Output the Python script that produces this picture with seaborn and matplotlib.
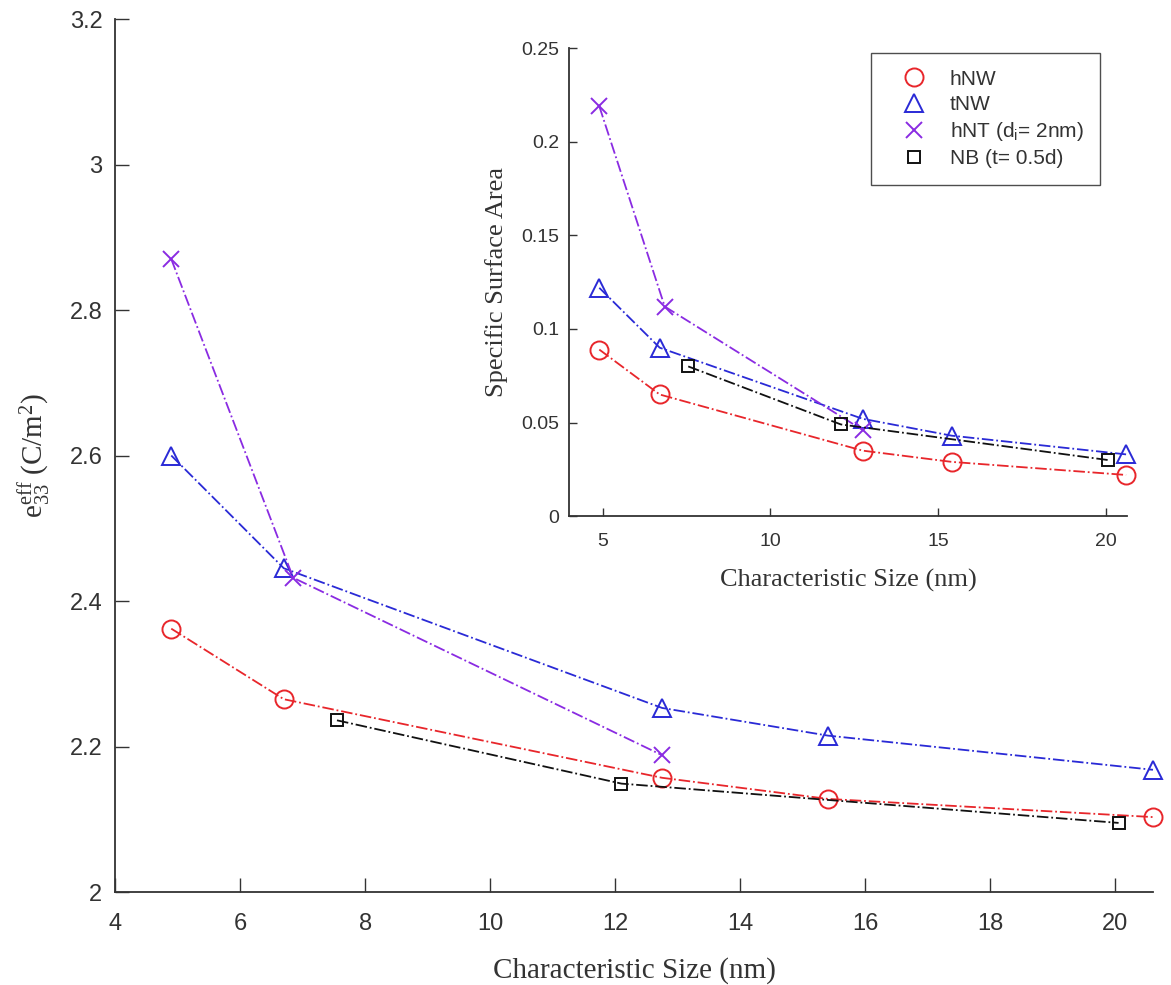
import matplotlib
matplotlib.use("Agg")
import matplotlib.pyplot as plt
from matplotlib.lines import Line2D
import seaborn as sns

# main plot: effective piezo coefficient vs characteristic size
hnw_x = [4.9, 6.7, 12.75, 15.4, 20.6]
hnw_e33 = [2.362, 2.265, 2.157, 2.128, 2.103]
tnw_x = [4.9, 6.7, 12.75, 15.4, 20.6]
tnw_e33 = [2.600, 2.445, 2.253, 2.215, 2.168]
hnt_x = [4.9, 6.85, 12.75]
hnt_e33 = [2.870, 2.432, 2.188]
nb_x = [7.55, 12.1, 20.05]
nb_e33 = [2.236, 2.149, 2.095]

# inset: specific surface area
hnw_ssa = [0.089, 0.065, 0.035, 0.029, 0.022]
tnw_ssa = [0.122, 0.090, 0.052, 0.043, 0.033]
hnt_ssa = [0.219, 0.112, 0.046]
nb_ssa = [0.080, 0.049, 0.030]

labels = ["hNW", "tNW", "hNT (d$_\\mathregular{i}$= 2nm)", "NB (t= 0.5d)"]

sns.set_style("ticks")
plt.rcParams['font.family'] = ['Liberation Sans', 'DejaVu Sans']
plt.rcParams['mathtext.fontset'] = 'custom'
plt.rcParams['mathtext.rm'] = 'Liberation Serif'
plt.rcParams['mathtext.it'] = 'Liberation Serif'

RED = "#e8262b"
BLUE = "#2a2ad6"
PURPLE = "#8a2be2"
BLACK = "#111111"
AXC = "#333333"

styles = [
    dict(color=RED, marker="o", markersize=13),
    dict(color=BLUE, marker="^", markersize=13),
    dict(color=PURPLE, marker="x", markersize=11),
    dict(color=BLACK, marker="s", markersize=9),
]


def draw(ax, series):
    for (x, y), st in zip(series, styles):
        sns.lineplot(x=x, y=y, ax=ax, color=st["color"], linestyle="-.",
                     linewidth=1.3, marker=st["marker"], markersize=st["markersize"],
                     markerfacecolor="none", markeredgecolor=st["color"],
                     markeredgewidth=1.4, sort=False, clip_on=False)


def matlab_axes(ax, length):
    sns.despine(ax=ax)
    ax.tick_params(direction="in", length=length, width=1, color=AXC,
                   labelcolor="#333333")
    for s in ("left", "bottom"):
        ax.spines[s].set_linewidth(1.3)
        ax.spines[s].set_color(AXC)


fig = plt.figure(figsize=(11.71, 9.85), dpi=100)
ax = fig.add_axes([0.0982, 0.0944, 0.8864, 0.8863])
draw(ax, [(hnw_x, hnw_e33), (tnw_x, tnw_e33), (hnt_x, hnt_e33), (nb_x, nb_e33)])
ax.set_xlim(4, 20.6)
ax.set_ylim(2, 3.2)
ax.set_xticks(range(4, 21, 2))
ax.set_yticks([2, 2.2, 2.4, 2.6, 2.8, 3, 3.2])
ax.set_yticklabels(["2", "2.2", "2.4", "2.6", "2.8", "3", "3.2"])
matlab_axes(ax, 10)
ax.tick_params(labelsize=17)
ax.tick_params(axis="x", pad=15)
ax.tick_params(axis="y", pad=9)
ax.set_xlabel("Characteristic Size (nm)", family="Liberation Serif", fontsize=21,
              color="#333333")
ax.set_ylabel(r"$\mathregular{e_{33}^{eff}}$ (C/m$^\mathregular{2}$)",
              family="Liberation Serif", fontsize=21, color="#333333")
ax.xaxis.set_label_coords(0.5, -0.075)
ax.yaxis.set_label_coords(-0.06, 0.5)

ins = fig.add_axes([0.486, 0.476, 0.4765, 0.475])
draw(ins, [(hnw_x, hnw_ssa), (tnw_x, tnw_ssa), (hnt_x, hnt_ssa), (nb_x, nb_ssa)])
ins.set_xlim(4, 20.63)
ins.set_ylim(0, 0.25)
ins.set_xticks([5, 10, 15, 20])
ins.set_yticks([0, 0.05, 0.1, 0.15, 0.2, 0.25])
ins.set_yticklabels(["0", "0.05", "0.1", "0.15", "0.2", "0.25"])
matlab_axes(ins, 6)
ins.tick_params(labelsize=14)
ins.tick_params(axis="x", pad=12)
ins.tick_params(axis="y", pad=7)
ins.set_xlabel("Characteristic Size (nm)", family="Liberation Serif", fontsize=19,
               color="#333333")
ins.set_ylabel("Specific Surface Area", family="Liberation Serif", fontsize=19,
               color="#333333")
ins.xaxis.set_label_coords(0.5, -0.112)
ins.yaxis.set_label_coords(-0.11, 0.5)

handles = [Line2D([], [], linestyle="none", marker=st["marker"],
                  markersize=st["markersize"], markerfacecolor="none",
                  markeredgecolor=st["color"], markeredgewidth=1.4)
           for st in styles]
leg = ins.legend(handles, labels, loc="upper right", bbox_to_anchor=(0.952, 0.99),
                 fontsize=15, frameon=True, fancybox=False, borderpad=0.8,
                 labelspacing=0.3, handletextpad=0.4, borderaxespad=0.0,
                 handlelength=2.6, labelcolor="#333333")
leg.get_frame().set_edgecolor("#222222")
leg.get_frame().set_linewidth(1.0)

fig.savefig("out.png", dpi=100, facecolor="white")
